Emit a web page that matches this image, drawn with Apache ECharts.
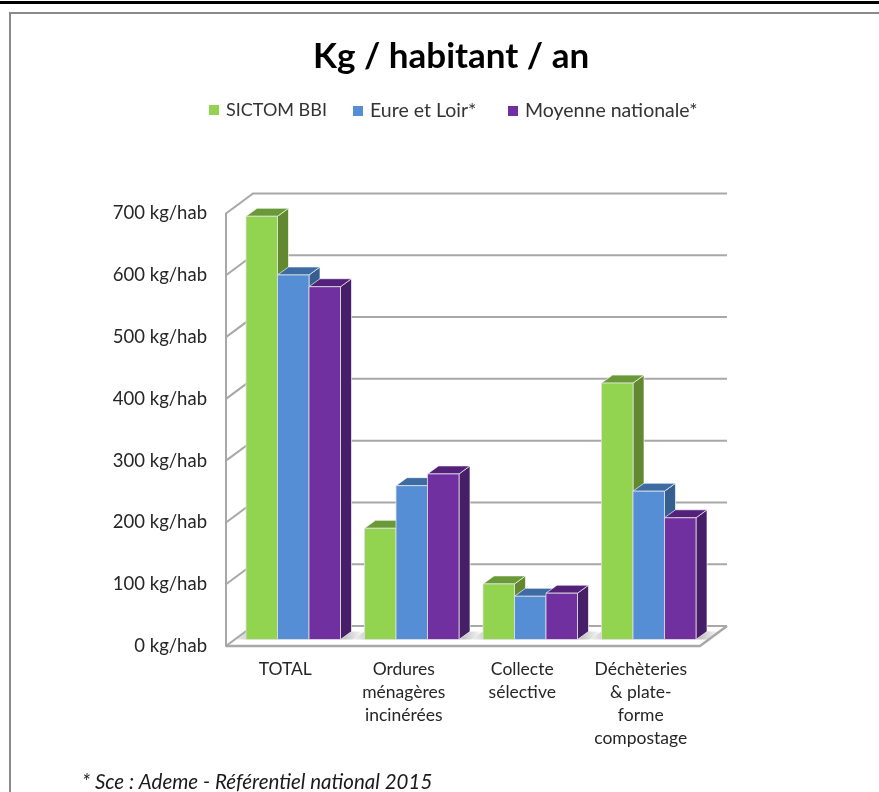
<!DOCTYPE html>
<html>
<head>
<meta charset="utf-8">
<title>Kg / habitant / an</title>
<script src="https://cdn.jsdelivr.net/npm/echarts@6/dist/echarts.min.js"></script>
<style>
  html, body { margin: 0; padding: 0; background: #fff; }
  #chart { width: 879px; height: 792px; }
</style>
</head>
<body>
<div id="chart"></div>
<script>
const categories = ['TOTAL', 'Ordures\nménagères\nincinérées', 'Collecte\nsélective', 'Déchèteries\n& plate-\nforme\ncompostage'];
const sictom = [685, 180, 90, 415];
const eureEtLoir = [590, 249, 70, 240];
const moyenne = [571, 268, 75, 197];
const yTicks = [0, 100, 200, 300, 400, 500, 600, 700];

const chart = echarts.init(document.getElementById('chart'));

const FONT = 'Lato';
const GREY = '#a8a8a8';
// 3d look: depth of the box, and where the bars stand inside it
const WALL_DX = 27, WALL_DY = -20;
const BAR_DX = 8, BAR_DY = -6.5;
const SIDE_DX = 11, SIDE_DY = -8;
const BAR_W = 31.5;

// back wall lines, one per tick
function renderWall(params, api) {
    const cs = params.coordSys;
    const y = api.coord([0, api.value(1)])[1];
    return {
        type: 'polyline',
        silent: true,
        shape: {
            points: [
                [cs.x, y],
                [cs.x + WALL_DX, y + WALL_DY],
                [cs.x + cs.width + WALL_DX, y + WALL_DY]
            ]
        },
        style: { fill: null, stroke: GREY, lineWidth: 2 }
    };
}

// floor of the box, front edge and right edge, plus soft shadow around each group
function renderFloor(params, api) {
    const cs = params.coordSys;
    const y0 = api.coord([0, 0])[1];
    const children = [{
        type: 'polyline',
        shape: {
            points: [
                [cs.x, y0],
                [cs.x + cs.width, y0],
                [cs.x + cs.width + WALL_DX, y0 + WALL_DY]
            ]
        },
        style: { fill: null, stroke: GREY, lineWidth: 2.5 }
    }];
    categories.forEach(function (c, i) {
        const cx = api.coord([i, 0])[0] + BAR_DX;
        const xl = cx - BAR_W * 1.5, xr = cx + BAR_W * 1.5;
        const yb = y0 + BAR_DY;
        children.push({
            type: 'polygon',
            shape: {
                points: [[xl - 12, yb], [xr + 12, yb], [xr + 24, yb - 8], [xl, yb - 8]]
            },
            style: {
                fill: new echarts.graphic.LinearGradient(0, 0, 1, 0, [
                    { offset: 0, color: 'rgba(170,170,170,0.15)' },
                    { offset: 0.15, color: 'rgba(170,170,170,0.7)' },
                    { offset: 0.85, color: 'rgba(170,170,170,0.7)' },
                    { offset: 1, color: 'rgba(170,170,170,0)' }
                ])
            }
        });
    });
    return { type: 'group', silent: true, children: children };
}

function barRenderer(offset, front, top, side) {
    return function (params, api) {
        const p = api.coord([api.value(0), api.value(1)]);
        const base = api.coord([api.value(0), 0]);
        const x = p[0] + BAR_DX + (offset - 1.5) * BAR_W;
        const yt = p[1] + BAR_DY;
        const yb = base[1] + BAR_DY;
        const edge = { stroke: 'rgba(255,255,255,0.65)', lineWidth: 1 };
        return {
            type: 'group',
            children: [
                {
                    type: 'polygon',
                    shape: {
                        points: [
                            [x + BAR_W, yt], [x + BAR_W + SIDE_DX, yt + SIDE_DY],
                            [x + BAR_W + SIDE_DX, yb + SIDE_DY], [x + BAR_W, yb]
                        ]
                    },
                    style: Object.assign({ fill: side }, edge)
                },
                {
                    type: 'polygon',
                    shape: {
                        points: [
                            [x, yt], [x + SIDE_DX, yt + SIDE_DY],
                            [x + BAR_W + SIDE_DX, yt + SIDE_DY], [x + BAR_W, yt]
                        ]
                    },
                    style: Object.assign({ fill: top }, edge)
                },
                {
                    type: 'rect',
                    shape: { x: x, y: yt, width: BAR_W, height: yb - yt },
                    style: { fill: front, stroke: 'rgba(225,225,225,0.8)', lineWidth: 1 }
                }
            ]
        };
    };
}

function barSeries(name, values, offset, front, top, side) {
    return {
        name: name,
        type: 'custom',
        coordinateSystem: 'cartesian2d',
        itemStyle: { color: front },
        encode: { x: 0, y: 1 },
        data: values.map(function (v, i) { return [i, v]; }),
        renderItem: barRenderer(offset, front, top, side),
        z: 5 + offset
    };
}

function legendAt(left, name, size) {
    return {
        left: left,
        top: 96,
        icon: 'rect',
        itemWidth: 10,
        itemHeight: 10,
        data: [name],
        textStyle: { fontFamily: FONT, fontSize: size, color: '#333', padding: [0, 0, 0, 2] }
    };
}

const option = {
    animation: false,
    backgroundColor: '#fff',
    title: [
        {
            text: 'Kg / habitant / an',
            left: 308,
            top: 34,
            textStyle: { fontFamily: FONT, fontSize: 35, fontWeight: 'bold', color: '#000' }
        },
        {
            text: '* Sce : Ademe - Référentiel national 2015',
            left: 77,
            top: 767,
            textStyle: { fontFamily: FONT, fontSize: 20.5, fontWeight: 'normal', fontStyle: 'italic', color: '#1a1a1a' }
        }
    ],
    legend: [
        legendAt(204, 'SICTOM BBI', 18),
        legendAt(348, 'Eure et Loir*', 19.5),
        legendAt(503, 'Moyenne nationale*', 19.5)
    ],
    grid: { left: 226, top: 213.5, width: 474, height: 432.5 },
    xAxis: {
        type: 'category',
        data: categories,
        axisLine: { show: false },
        axisTick: { show: false },
        axisLabel: {
            interval: 0,
            margin: 12,
            lineHeight: 23,
            fontFamily: FONT,
            fontSize: 17.5,
            color: '#262626'
        }
    },
    yAxis: {
        type: 'value',
        min: 0,
        max: 700,
        interval: 100,
        splitLine: { show: false },
        axisTick: { show: false },
        axisLine: { show: true, lineStyle: { color: GREY, width: 2 } },
        axisLabel: {
            formatter: '{value} kg/hab',
            margin: 19,
            padding: [3, 0, 0, 0],
            fontFamily: FONT,
            fontSize: 18.5,
            color: '#262626'
        }
    },
    graphic: [
        { type: 'rect', shape: { x: 0, y: 1, width: 879, height: 3 }, style: { fill: '#000' } },
        { type: 'rect', shape: { x: 9, y: 12, width: 870, height: 2 }, style: { fill: '#8a8a8a' } },
        { type: 'rect', shape: { x: 9, y: 12, width: 2, height: 780 }, style: { fill: '#8a8a8a' } }
    ],
    series: [
        {
            type: 'custom',
            name: 'murs',
            encode: { x: 0, y: 1 },
            data: yTicks.map(function (t) { return [0, t]; }),
            renderItem: renderWall,
            silent: true,
            z: 1
        },
        {
            type: 'custom',
            name: 'sol',
            encode: { x: 0, y: 1 },
            data: [[0, 0]],
            renderItem: renderFloor,
            silent: true,
            z: 2
        },
        barSeries('SICTOM BBI', sictom, 0, '#92d350', '#6a9a38', '#62892f'),
        barSeries('Eure et Loir*', eureEtLoir, 1, '#558ed5', '#3c6ca3', '#355f8f'),
        barSeries('Moyenne nationale*', moyenne, 2, '#7030a0', '#53207a', '#471e68')
    ]
};

chart.setOption(option);
</script>
</body>
</html>
